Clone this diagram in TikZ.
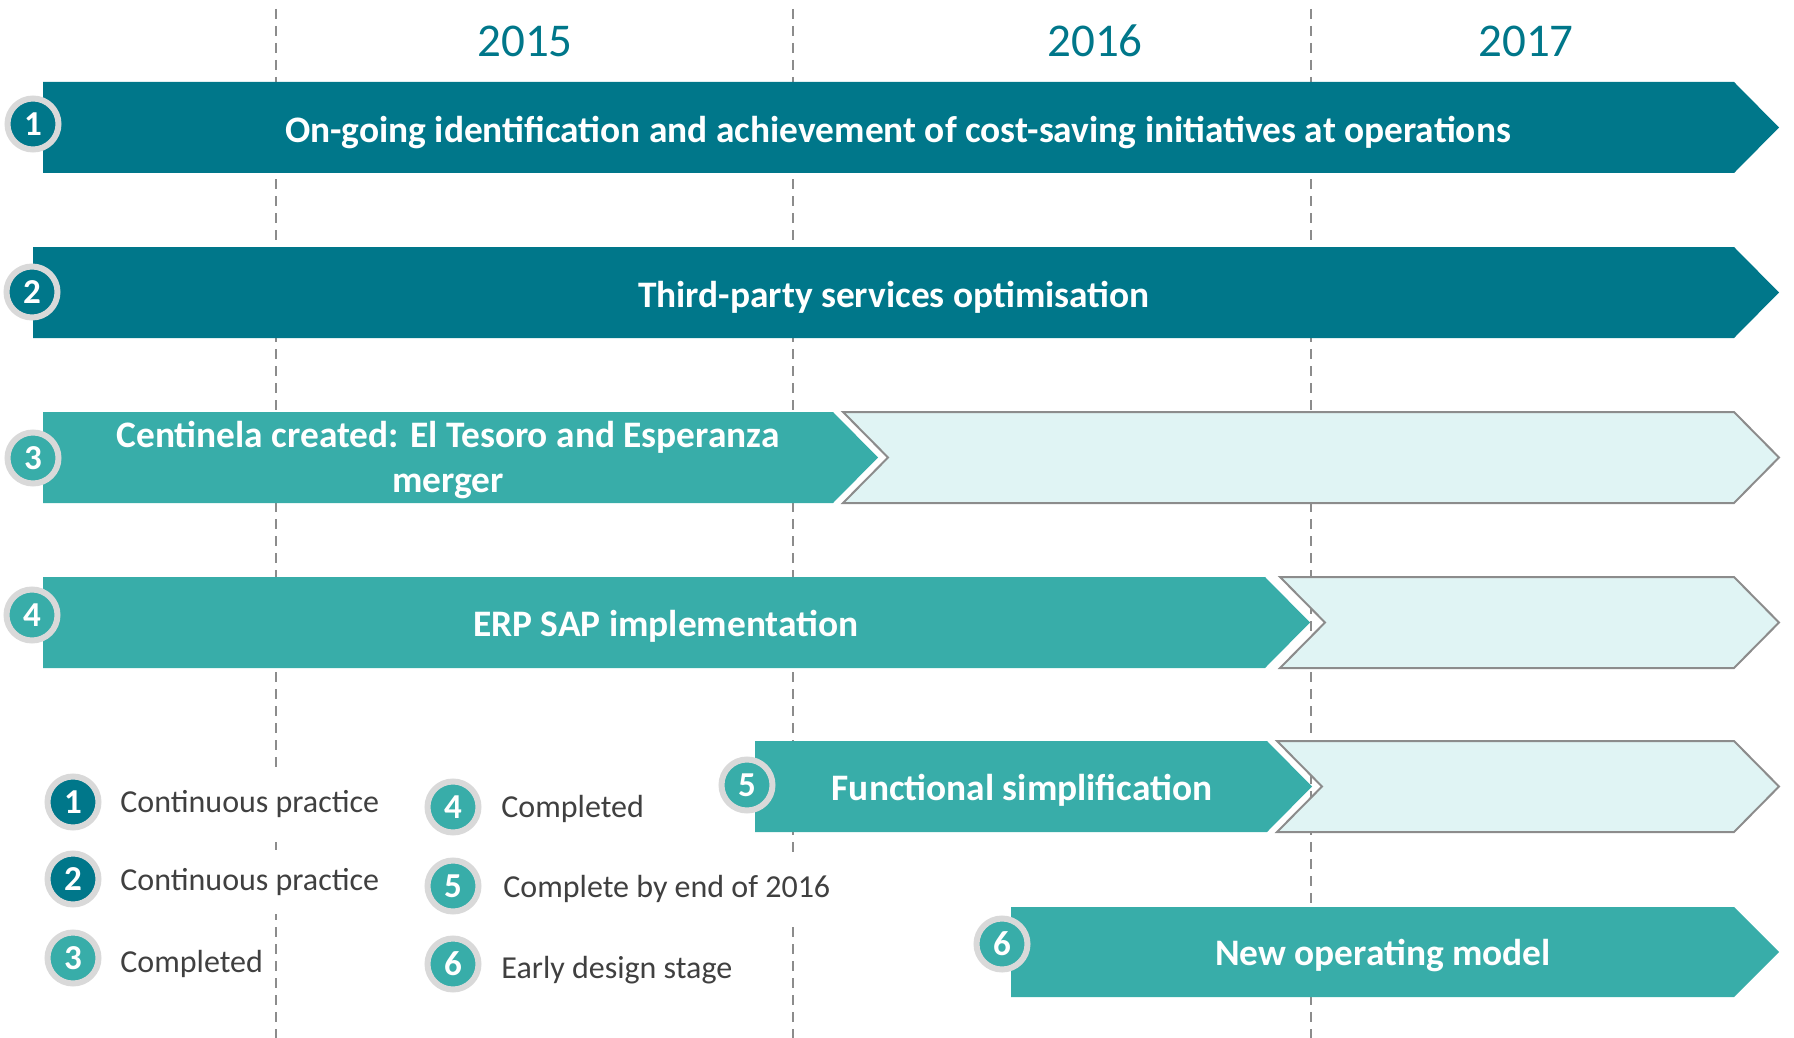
\documentclass[tikz,border=0pt]{standalone}
\usepackage{fontspec}
\setmainfont{Carlito}
\usepackage{tikz}
\definecolor{tealdark}{HTML}{00778A}
\definecolor{teallight}{HTML}{38ADA9}
\definecolor{tealpale}{HTML}{E0F4F4}
\definecolor{ringgray}{HTML}{D9D9D9}
\definecolor{linegray}{HTML}{8C8C8C}
\definecolor{textgray}{HTML}{404040}

\begin{document}
\begin{tikzpicture}[x=0.5pt,y=-0.5pt,font=\fontsize{16}{19}\selectfont]

\tikzset{
bdg/.style={
    circle,
    draw=ringgray,
    line width=3pt,
    minimum size=25.5pt,
    inner sep=0pt,
    text=white,
    font=\fontsize{17.5}{19}\selectfont\bfseries
},
bt/.style={text=white,align=center,font=\fontsize{18.7}{22.5}\selectfont\bfseries},
lt/.style={anchor=west,fill=white,text=textgray,minimum height=32pt,inner xsep=2pt},
yr/.style={text=tealdark,font=\fontsize{23.5}{26}\selectfont},
grid/.style={linegray,line width=1pt,dash pattern=on 5pt off 3.5pt},
todo/.style={fill=tealpale,draw=linegray,line width=1pt}
}

\useasboundingbox (0,0) rectangle (1794,1038);

% year dividers
\foreach \x in {276,793,1311}
  \draw[grid] (\x,9) -- (\x,1038);

\node[yr] (y15) at (525,41) {2015};
\node[yr] (y16) at (1095,41) {2016};
\node[yr] (y17) at (1526,41) {2017};

% bars
\fill[tealdark] (43,82) -- (1734,82) -- (1779,127.5) -- (1734,173) -- (43,173) -- cycle;
\fill[tealdark] (33,247) -- (1734,247) -- (1779,292.5) -- (1734,338) -- (33,338) -- cycle;

\fill[teallight] (43,412) -- (833,412) -- (878,457.5) -- (833,503) -- (43,503) -- cycle;
\filldraw[todo] (843,412) -- (1734,412) -- (1779,457.5) -- (1734,503) -- (843,503) -- (888,457.5) -- cycle;

\fill[teallight] (43,577) -- (1265,577) -- (1310,622.5) -- (1265,668) -- (43,668) -- cycle;
\filldraw[todo] (1280,577) -- (1734,577) -- (1779,622.5) -- (1734,668) -- (1280,668) -- (1325,622.5) -- cycle;

\fill[teallight] (755,741) -- (1267,741) -- (1312,786.5) -- (1267,832) -- (755,832) -- cycle;
\filldraw[todo] (1277,741) -- (1734,741) -- (1779,786.5) -- (1734,832) -- (1277,832) -- (1322,786.5) -- cycle;

\fill[teallight] (1011,907) -- (1734,907) -- (1779,952) -- (1734,997) -- (1011,997) -- cycle;

\node[bt] (t1) at (898,132.5) {On-going identification and achievement of cost-saving initiatives at operations};
\node[bt] (t2) at (894,297.5) {Third-party services optimisation};
\node[bt] (t3) at (448,460) {Centinela created: El Tesoro and Esperanza\\merger};
\node[bt] (t4) at (666,626.5) {ERP SAP implementation};
\node[bt] (t5) at (1022,790.5) {Functional simplification};
\node[bt] (t6) at (1383,956) {New operating model};

% badges on the bars
\node[bdg,fill=tealdark] (b1) at (33,124) {1};
\node[bdg,fill=tealdark] (b2) at (32,292) {2};
\node[bdg,fill=teallight] (b3) at (33,458) {3};
\node[bdg,fill=teallight] (b4) at (32,615) {4};
\node[bdg,fill=teallight] (b5) at (747,785) {5};
\node[bdg,fill=teallight] (b6) at (1002,944) {6};

% legend
\node[lt] (l1t) at (116,804) {Continuous practice};
\node[lt] (l2t) at (116,882) {Continuous practice};
\node[lt] (l3t) at (116,964) {Completed};
\node[lt] (l4t) at (497,809) {Completed};
\node[lt] (l5t) at (499,889) {Complete by end of 2016};
\node[lt] (l6t) at (497,970) {Early design stage};

\node[bdg,fill=tealdark] (l1) at (73,802) {1};
\node[bdg,fill=tealdark] (l2) at (73,879) {2};
\node[bdg,fill=teallight] (l3) at (73,958) {3};
\node[bdg,fill=teallight] (l4) at (453,807) {4};
\node[bdg,fill=teallight] (l5) at (453,886) {5};
\node[bdg,fill=teallight] (l6) at (453,964) {6};

\end{tikzpicture}
\end{document}
